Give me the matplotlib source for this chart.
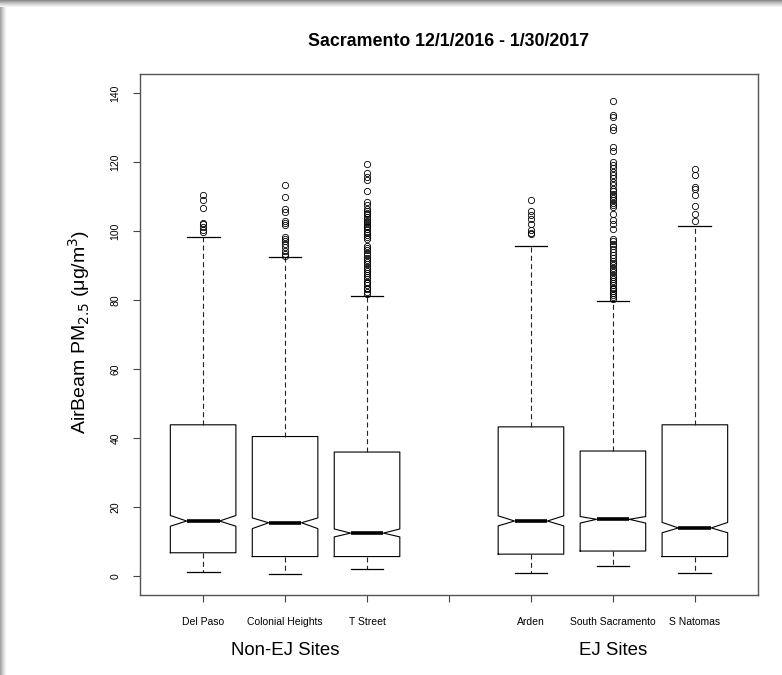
import matplotlib
matplotlib.use('Agg')
import matplotlib.pyplot as plt
from matplotlib.patches import Rectangle

plt.rcParams['font.family'] = ['Liberation Sans', 'DejaVu Sans']

# Sites and box statistics
sites = ['Del Paso', 'Colonial Heights', 'T Street', 'Arden', 'South Sacramento', 'S Natomas']
positions = [1, 2, 3, 5, 6, 7]
q1 = [6.7, 5.6, 5.6, 6.3, 7.2, 5.6]
median = [15.9, 15.4, 12.4, 15.9, 16.4, 13.9]
q3 = [43.8, 40.4, 35.9, 43.2, 36.2, 43.8]
whisker_low = [1.2, 0.5, 1.9, 0.7, 2.9, 0.7]
whisker_high = [98.3, 92.5, 81.2, 95.7, 79.7, 101.4]
notch_low = [14.4, 13.7, 11.3, 14.5, 15.3, 12.5]
notch_high = [17.5, 16.8, 13.6, 17.4, 17.2, 15.5]

del_paso_out = [99.8, 100.4, 101.2, 101.9, 102.4, 106.7, 108.9, 110.4]
colonial_out = [92.8, 93.4, 94.2, 95.2, 96.3, 97.1, 97.6, 98.3, 101.7, 102.4, 102.9,
                105.6, 106.3, 109.7, 113.4]
tstreet_out = [81.8, 82.4, 83.1, 83.5, 84.2, 84.9, 85.3, 86.0, 86.6, 87.1, 87.7, 88.4,
               89.0, 89.5, 90.3, 91.0, 91.6, 92.2, 93.1, 93.7, 94.4, 95.1, 95.7, 97.6,
               98.2, 98.7, 99.3, 99.8, 100.5, 101.0, 101.4, 101.9, 102.5, 103.0, 103.6,
               104.1, 104.8, 105.2, 105.8, 106.5, 107.4, 108.4, 111.6, 114.7, 115.7,
               116.9, 119.5]
arden_out = [99.0, 99.5, 100.2, 102.1, 103.4, 104.6, 105.8, 108.9]
south_sac_out = [80.4, 80.9, 81.4, 82.0, 82.5, 83.1, 83.6, 84.2, 84.8, 85.4, 86.1, 86.7,
                 87.2, 88.0, 88.6, 89.3, 90.1, 90.8, 91.4, 92.3, 93.0, 93.8, 94.7, 95.5,
                 96.2, 97.0, 97.6, 100.5, 101.9, 103.2, 104.8, 106.8, 107.5, 108.2, 108.9,
                 109.5, 110.1, 110.8, 111.6, 112.3, 113.2, 114.3, 115.3, 116.2, 117.2,
                 118.2, 119.1, 120.1, 123.2, 124.2, 129.2, 130.1, 133.0, 133.6, 137.7]
natomas_out = [102.9, 105.0, 107.2, 110.3, 112.1, 112.8, 116.2, 118.1]
outliers = [del_paso_out, colonial_out, tstreet_out, arden_out, south_sac_out, natomas_out]

tick_positions = [1, 2, 3, 4, 5, 6, 7]
tick_labels = ['Del Paso', 'Colonial Heights', 'T Street', '', 'Arden', 'South Sacramento', 'S Natomas']
y_ticks = [0, 20, 40, 60, 80, 100, 120, 140]
groups = ['Non-EJ Sites', 'EJ Sites']
group_centers = [2, 6]

stats = []
for i in range(len(sites)):
    stats.append({'label': sites[i], 'q1': q1[i], 'med': median[i], 'q3': q3[i],
                  'whislo': whisker_low[i], 'whishi': whisker_high[i],
                  'cilo': notch_low[i], 'cihi': notch_high[i], 'fliers': outliers[i]})

fig = plt.figure(figsize=(7.82, 6.75), dpi=100)
fig.patch.set_facecolor('white')

# screenshot shadow along the top and left edges
shades = ['#8c8c8c', '#a2a2a2', '#b6b6b6', '#c8c8c8', '#d8d8d8', '#e6e6e6', '#f2f2f2']
for k, c in enumerate(shades):
    fig.patches.append(Rectangle((0, 1 - (k + 1) / 675), 1, 1 / 675, transform=fig.transFigure,
                                 facecolor=c, edgecolor='none', zorder=0))
for k, c in enumerate(shades[1:]):
    fig.patches.append(Rectangle((k / 782, 0), 1 / 782, 1 - 7 / 675, transform=fig.transFigure,
                                 facecolor=c, edgecolor='none', zorder=0))

ax = fig.add_axes([140 / 782, 1 - 594.5 / 675, 618 / 782, 520.5 / 675])

ax.bxp(stats, positions=positions, widths=0.8, capwidths=0.4, shownotches=True,
       patch_artist=False, showfliers=True,
       boxprops=dict(color='black', linewidth=0.8),
       medianprops=dict(color='black', linewidth=2.6, solid_capstyle='butt'),
       whiskerprops=dict(color='#222222', linewidth=0.8, linestyle=(0, (4.5, 3))),
       capprops=dict(color='black', linewidth=0.9),
       flierprops=dict(marker='o', markersize=4.5, markerfacecolor='none',
                       markeredgecolor='black', markeredgewidth=0.6))

ax.set_xlim(0.23, 7.77)
ax.set_ylim(-5.4, 145.5)
ax.set_xticks(tick_positions)
ax.set_xticklabels(tick_labels, fontsize=7.5)
ax.set_yticks(y_ticks)
ax.set_yticklabels([str(v) for v in y_ticks], fontsize=7.5, rotation=90, va='center')
ax.tick_params(axis='x', length=5, width=0.8, color='#444444', pad=11)
ax.tick_params(axis='y', length=5, width=0.8, color='#444444', pad=9)
for s in ax.spines.values():
    s.set_color('#555555')
    s.set_linewidth(1.0)

ax.text(0.5, 1.0615, 'Sacramento 12/1/2016 - 1/30/2017', transform=ax.transAxes,
        ha='center', va='center', fontsize=12.8, fontweight='bold')
fig.text(79 / 782, 1 - 332 / 675, 'AirBeam PM$_{2.5}$ ($\\mathregular{\\mu}$g/m$^3$)',
         rotation=90, ha='center', va='center', fontsize=14)
for g, xc in zip(groups, group_centers):
    ax.text(xc, -0.1085, g, transform=ax.get_xaxis_transform(), ha='center', va='center',
            fontsize=13.4)

plt.savefig('out.png', dpi=100)
